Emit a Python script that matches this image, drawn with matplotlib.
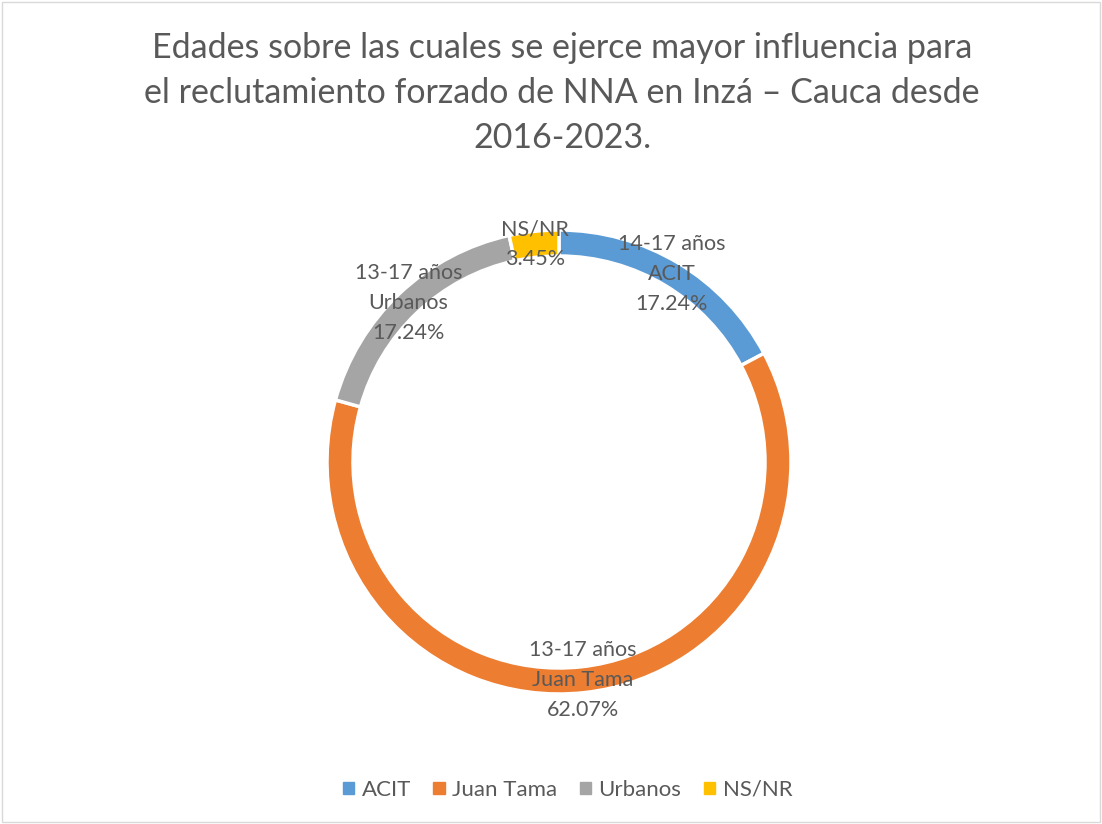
import numpy as np
import matplotlib
matplotlib.use("Agg")
import matplotlib.pyplot as plt
from matplotlib.patches import Rectangle

plt.rcParams["font.family"] = ["Lato", "DejaVu Sans"]

groups = ["ACIT", "Juan Tama", "Urbanos", "NS/NR"]
ages = ["14-17 años", "13-17 años", "13-17 años", None]
counts = [5, 18, 5, 1]
colors = ["#5B9BD5", "#ED7D31", "#A5A5A5", "#FFC000"]
title = ("Edades sobre las cuales se ejerce mayor influencia para\n"
         "el reclutamiento forzado de NNA en Inzá – Cauca desde\n"
         "2016-2023.")
txt = "#595959"

fig = plt.figure(figsize=(11.02, 8.24), dpi=100)
fig.patches.append(Rectangle((0.002, 0.002), 0.996, 0.996, transform=fig.transFigure,
                             fill=False, edgecolor="#D9D9D9", linewidth=1))

# ring centred at (559, 462) px, outer radius 232 px
ax = fig.add_axes([(559 - 232) / 1102, (824 - 462 - 232) / 824, 464 / 1102, 464 / 824])
ring = 26 / 232
wedges, _ = ax.pie(counts, colors=colors, startangle=90, counterclock=False, radius=1,
                   wedgeprops=dict(width=ring, edgecolor="white", linewidth=2.5))
ax.set_xlim(-1, 1)
ax.set_ylim(-1, 1)
ax.set_aspect("equal")
ax.axis("off")

total = sum(counts)
rmid = 1 - ring / 2
for w, g, a, c in zip(wedges, groups, ages, counts):
    ang = np.deg2rad((w.theta1 + w.theta2) / 2)
    pct = f"{100 * c / total:.2f}%"
    label = f"{a}\n{g}\n{pct}" if a else f"{g}\n{pct}"
    ax.text(rmid * np.cos(ang), rmid * np.sin(ang), label, ha="center", va="center",
            fontsize=15.5, color=txt, linespacing=1.62, clip_on=False)

fig.text(0.51, 1 - 93 / 824, title, ha="center", va="center", fontsize=24.5,
         color=txt, linespacing=1.5)

handles = [plt.Rectangle((0, 0), 1, 1, color=col) for col in colors]
fig.legend(handles, groups, loc="center", bbox_to_anchor=(0.515, 1 - 790 / 824), ncol=4,
           frameon=False, fontsize=16, labelcolor=txt, handlelength=0.5, handleheight=0.5,
           handletextpad=0.35, columnspacing=1.0)

fig.savefig("out.png", dpi=100)
